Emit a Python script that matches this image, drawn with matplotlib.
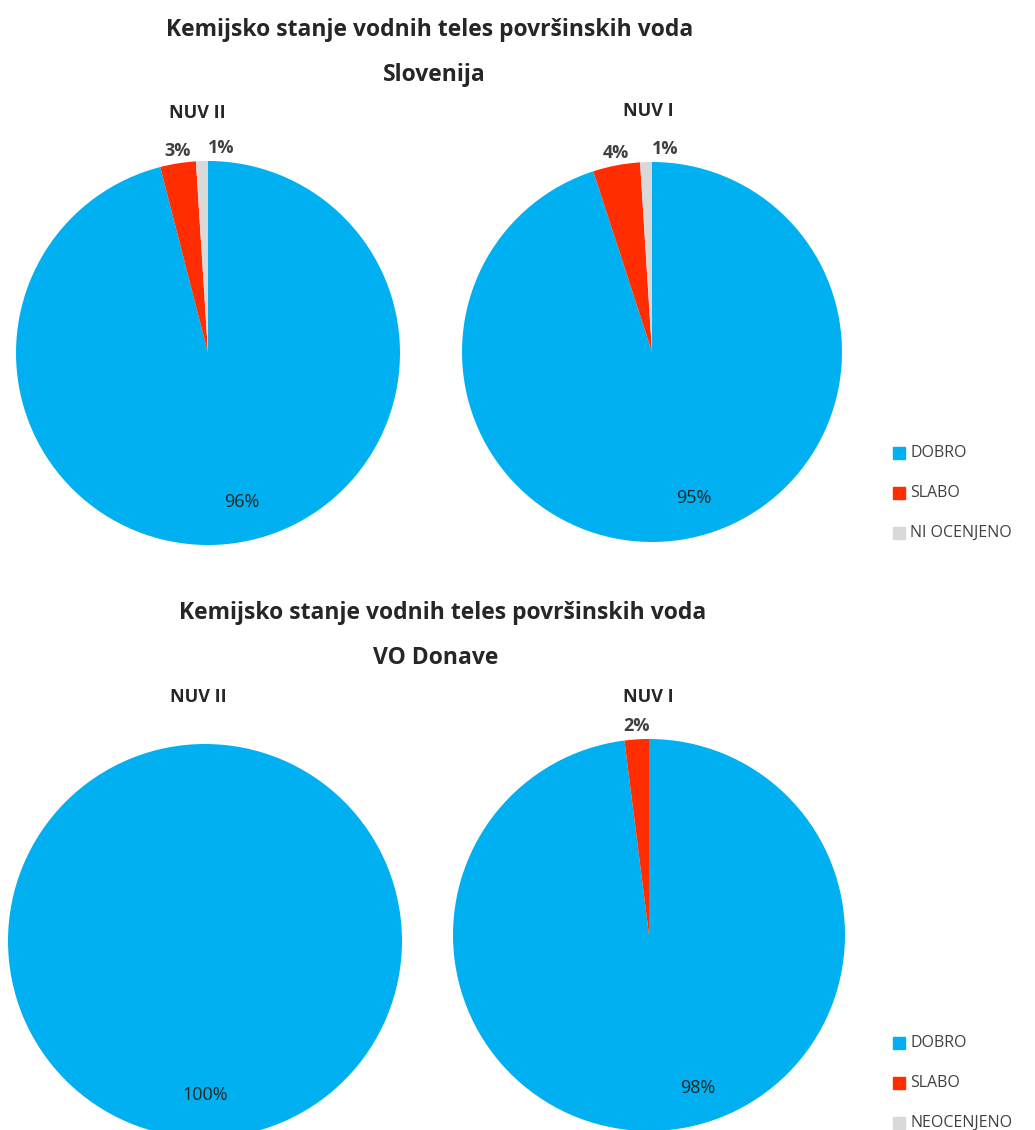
import matplotlib
matplotlib.use("Agg")
import matplotlib.pyplot as plt
from matplotlib.patches import Rectangle
import numpy as np

plt.rcParams['font.family'] = ['Open Sans', 'DejaVu Sans']

categories_top = ["DOBRO", "SLABO", "NI OCENJENO"]
categories_bottom = ["DOBRO", "SLABO", "NEOCENJENO"]
slo_nuv2 = [96, 3, 1]
slo_nuv1 = [95, 4, 1]
don_nuv2 = [100, 0, 0]
don_nuv1 = [98, 2, 0]
colors = ["#00B0F0", "#FF2D00", "#D9D9D9"]

title_main = "Kemijsko stanje vodnih teles površinskih voda"
sub_top = "Slovenija"
sub_bottom = "VO Donave"
pie_titles = ["NUV II", "NUV I"]

W, H = 1035, 1130
fig = plt.figure(figsize=(W / 100, H / 100), dpi=100)
TXT = '#262626'


def fx(x):
    return x / W


def fy(y):
    return 1 - y / H


def draw_pie(cx, cy, r, values, big_dx=0.0):
    ax = fig.add_axes([fx(cx - r), fy(cy + r), 2 * r / W, 2 * r / H])
    wedges, _ = ax.pie(values, colors=colors, startangle=90, counterclock=False,
                       radius=1, wedgeprops=dict(linewidth=0))
    ax.set_xlim(-1, 1)
    ax.set_ylim(-1, 1)
    ax.set_aspect('equal')
    ax.axis('off')
    total = sum(values)
    for i, (w, v) in enumerate(zip(wedges, values)):
        if v <= 0:
            continue
        ang = np.deg2rad((w.theta1 + w.theta2) / 2)
        if v / total > 0.5:
            d = 0.78
            ax.text(d * np.cos(ang) + big_dx, d * np.sin(ang), f"{v}%",
                    ha='center', va='center', fontsize=13, color=TXT)
        else:
            d = 1.02
            dx = 0.1 if i == 2 else 0.0
            ax.text(d * np.cos(ang) + dx, d * np.sin(ang), f"{v}%",
                    ha='center', va='bottom', fontsize=13, fontweight='bold',
                    color='#404040', clip_on=False)
    return ax


def legend(x, ys, labels):
    for y, lab, c in zip(ys, labels, colors):
        fig.patches.append(Rectangle((fx(x), fy(y + 6)), 12 / W, 12 / H,
                                     transform=fig.transFigure, color=c))
        fig.text(fx(x + 17), fy(y), lab, fontsize=11.5, va='center', ha='left',
                 color='#404040')


# top block
fig.text(fx(430), fy(30), title_main, ha='center', va='center',
         fontsize=16.5, fontweight='bold', color=TXT)
fig.text(fx(434), fy(75), sub_top, ha='center', va='center',
         fontsize=16.5, fontweight='bold', color=TXT)
fig.text(fx(197), fy(113), pie_titles[0], ha='center', va='center',
         fontsize=13, fontweight='bold', color=TXT)
fig.text(fx(648), fy(111), pie_titles[1], ha='center', va='center',
         fontsize=13, fontweight='bold', color=TXT)
draw_pie(208, 353, 192, slo_nuv2, big_dx=0.08)
draw_pie(652, 352, 190, slo_nuv1, big_dx=0.10)
legend(893, [453, 493, 533], categories_top)

# bottom block
fig.text(fx(443), fy(613), title_main, ha='center', va='center',
         fontsize=16.5, fontweight='bold', color=TXT)
fig.text(fx(436), fy(658), sub_bottom, ha='center', va='center',
         fontsize=16.5, fontweight='bold', color=TXT)
fig.text(fx(198), fy(697), pie_titles[0], ha='center', va='center',
         fontsize=13, fontweight='bold', color=TXT)
fig.text(fx(648), fy(697), pie_titles[1], ha='center', va='center',
         fontsize=13, fontweight='bold', color=TXT)
draw_pie(205, 941, 197, don_nuv2, big_dx=0.0)
draw_pie(649, 935, 196, don_nuv1, big_dx=0.20)
legend(893, [1043, 1083, 1123], categories_bottom)

fig.savefig("out.png", dpi=100)
